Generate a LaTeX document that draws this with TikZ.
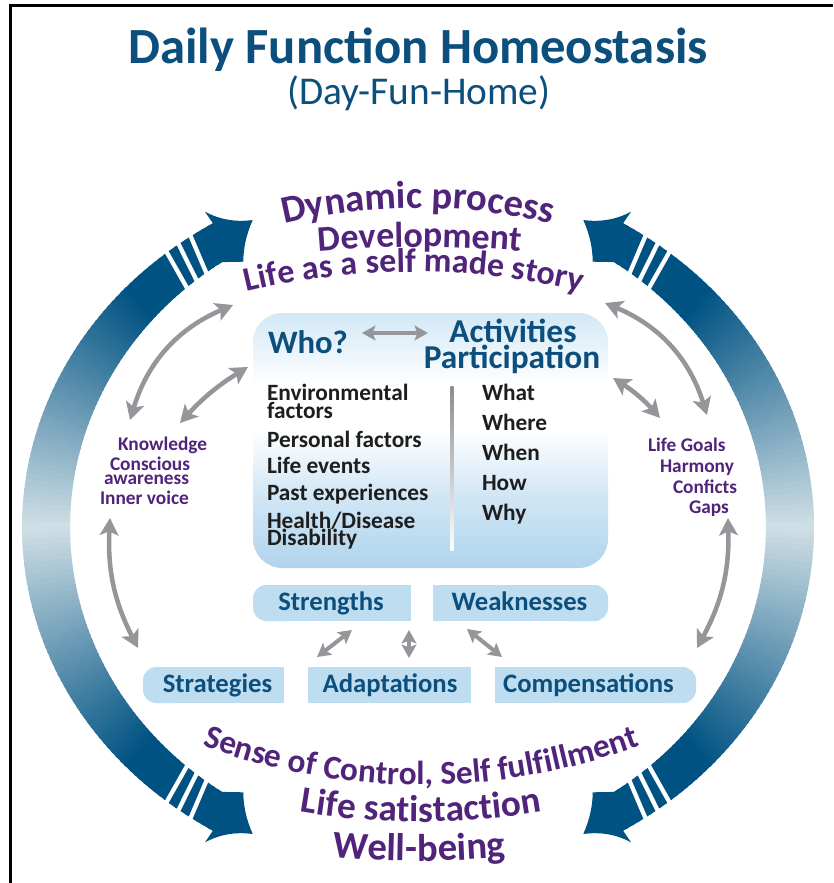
\documentclass[tikz,border=0pt]{standalone}
\usepackage{fontspec}
\setmainfont{Carlito}
\usetikzlibrary{arrows.meta,decorations.text,calc}

\definecolor{arcdark}{RGB}{0,82,130}
\definecolor{arclight}{RGB}{205,222,229}
\definecolor{dfblue}{RGB}{12,78,124}
\definecolor{dfpurple}{RGB}{80,36,122}
\definecolor{dfgray}{RGB}{148,150,153}
\definecolor{boxblue}{RGB}{190,221,240}
\definecolor{boxtop}{RGB}{210,232,246}
\definecolor{boxbot}{RGB}{176,212,237}
\definecolor{txtdark}{RGB}{30,30,30}

\pgfdeclareverticalshading{panelshade}{100bp}{%
  color(0bp)=(boxbot); color(25bp)=(boxbot); color(40bp)=(boxbot!55!white);
  color(52bp)=(white); color(61bp)=(white); color(75bp)=(boxtop); color(100bp)=(boxtop)}

\newcommand\dffs[1]{\fontsize{#1}{#1}\selectfont}
\newcommand\fDyn{\bfseries\fontsize{29pt}{30pt}\selectfont\color{dfpurple}}
\newcommand\fDev{\bfseries\fontsize{27pt}{28pt}\selectfont\color{dfpurple}}
\newcommand\fLife{\bfseries\fontsize{25.5pt}{26pt}\selectfont\color{dfpurple}}
\newcommand\fSense{\bfseries\fontsize{25pt}{26pt}\selectfont\color{dfpurple}}
\newcommand\fSat{\bfseries\fontsize{28pt}{29pt}\selectfont\color{dfpurple}}
\newcommand\fWell{\bfseries\fontsize{29pt}{30pt}\selectfont\color{dfpurple}}

\newcommand\arcquarter{%
 \foreach \i in {0,...,59}{%
  \pgfmathsetmacro\sa{\i/60}%
  \pgfmathsetmacro\sb{min(1,(\i+1.4)/60)}%
  \pgfmathsetmacro\pc{min(100,100*\sa/0.72)}%
  \fill[arcdark!\pc!arclight]
   ({396*cos(180-58.8*\sa)},{355*sin(180-58.8*\sa)}) --
   ({396*cos(180-58.8*\sb)},{355*sin(180-58.8*\sb)}) --
   ({348*cos(180-55.7*\sb)},{320.6*sin(180-55.7*\sb)}) --
   ({348*cos(180-55.7*\sa)},{320.6*sin(180-55.7*\sa)}) -- cycle;
 }%
 \fill[arcdark]
   ({396*cos(180-58.8*0.985)},{355*sin(180-58.8*0.985)}) --
   (-205.1,303.7) -- (-213,315.3)
   .. controls (-198.2,307.3) and (-182.2,304.7) .. (-165.3,307)
   .. controls (-171.3,293.5) and (-174.7,279.5) .. (-174.7,265.3)
   -- (-196.1,264.9) --
   ({348*cos(180-55.7*0.985)},{320.6*sin(180-55.7*0.985)}) -- cycle;
 \foreach \s in {0.864,0.901,0.938}{%
  \draw[white,line width=3.2pt]
   ({402*cos(180-58.8*\s)},{361*sin(180-58.8*\s)}) --
   ({342*cos(180-55.7*\s)},{314.6*sin(180-55.7*\s)});
 }%
}

\tikzset{
  txt/.style={inner sep=0pt, outer sep=0pt},
  colitem/.style={txt, anchor=base west, font=\bfseries\dffs{17.5}, text=txtdark},
  boxlbl/.style={txt, anchor=base, font=\bfseries\dffs{20}, text=dfblue},
  sidelbl/.style={txt, anchor=base west, font=\bfseries\dffs{14.5}, text=dfpurple},
  gbig/.style={draw=dfgray, line width=3.4pt,
     {Stealth[length=13pt,width=14pt,inset=3pt]}-{Stealth[length=13pt,width=14pt,inset=3pt]}},
  gsmall/.style={draw=dfgray, line width=3pt,
     {Stealth[length=10pt,width=11pt,inset=2pt]}-{Stealth[length=10pt,width=11pt,inset=2pt]}},
}

\begin{document}
\begin{tikzpicture}[x=0.75pt,y=0.75pt]
\useasboundingbox (0,0) rectangle (833,-883);
\fill[white] (0,0) rectangle (833,-883);
\draw[line width=1.6pt] (10.5,-883) -- (10.5,-5.5) -- (833,-5.5);

% title
\node[txt, anchor=base, font=\bfseries\dffs{38}, text=dfblue] (title) at (418,-63) {Daily Function Homeostasis};
\node[txt, anchor=base, font=\dffs{29.5}, text=dfblue] (subtitle) at (419,-104) {(Day-Fun-Home)};

% big arcs
\begin{scope}[shift={(418,-527)}]
 \arcquarter
 \begin{scope}[yscale=-1]\arcquarter\end{scope}
 \begin{scope}[xscale=-1]\arcquarter\end{scope}
 \begin{scope}[scale=-1]\arcquarter\end{scope}
\end{scope}

% curved texts
\path[decorate,decoration={text along path,text={|\fDyn|Dynamic process},text align=center}]
  (418,-786) ++(120:578) arc[start angle=120,end angle=60,radius=578];
\path[decorate,decoration={text along path,text={|\fDev|Development},text align=center}]
  (420,-1447) ++(97:1200) arc[start angle=97,end angle=83,radius=1200];
\path[decorate,decoration={text along path,text={|\fLife|Life as a self made story},text align=center}]
  (414,-988) ++(108:716) arc[start angle=108,end angle=72,radius=716];
\path[decorate,decoration={text along path,text={|\fSense|Sense of Control, Self fulfillment},text align=center}]
  (421,-162) ++(236:623) arc[start angle=236,end angle=304,radius=623];
\path[decorate,decoration={text along path,text={|\fSat|Life satistaction},text align=center}]
  (421,-97) ++(255:725) arc[start angle=255,end angle=285,radius=725];
\path[decorate,decoration={text along path,text={|\fWell|Well-being},text align=center}]
  (419,139) ++(262:1000) arc[start angle=262,end angle=278,radius=1000];

% central panel
\shade[shading=panelshade, rounded corners=22pt] (253,-313) rectangle (608,-568);
\shade[top color=gray!90, bottom color=white] (450.5,-386) rectangle (453.5,-550);

\node[txt, anchor=base west, font=\bfseries\dffs{24.5}, text=dfblue] (who) at (268,-353) {Who?};
\node[txt, anchor=base, font=\bfseries\dffs{25}, text=dfblue] (act) at (513,-342) {Activities};
\node[txt, anchor=base, font=\bfseries\dffs{25}, text=dfblue] (part) at (512,-368) {Participation};

\node[colitem] (env)  at (267,-400) {Environmental};
\node[colitem] (envf) at (267,-418) {factors};
\node[colitem] (pers) at (267,-447) {Personal factors};
\node[colitem] (life) at (267,-473) {Life events};
\node[colitem] (past) at (267,-500) {Past experiences};
\node[colitem] (hea)  at (267,-528) {Health/Disease};
\node[colitem] (dis)  at (267,-545) {Disability};

\node[colitem] (what)  at (482,-400) {What};
\node[colitem] (where) at (482,-430) {Where};
\node[colitem] (when)  at (482,-460) {When};
\node[colitem] (how)   at (482,-490) {How};
\node[colitem] (why)   at (482,-520) {Why};

% lower boxes
\fill[boxblue, rounded corners=10pt] (253,-585) rectangle (300,-621);
\fill[boxblue] (280,-585) rectangle (411,-621);
\fill[boxblue, rounded corners=10pt] (560,-585) rectangle (608,-621);
\fill[boxblue] (433,-585) rectangle (580,-621);
\fill[boxblue, rounded corners=10pt] (143,-667) rectangle (190,-703);
\fill[boxblue] (170,-667) rectangle (284,-703);
\fill[boxblue] (308,-667) rectangle (471,-703);
\fill[boxblue, rounded corners=10pt] (650,-667) rectangle (696,-703);
\fill[boxblue] (495,-667) rectangle (670,-703);

\node[boxlbl] (str)  at (331,-610) {Strengths};
\node[boxlbl] (weak) at (519.5,-610) {Weaknesses};
\node[boxlbl] (strat) at (217.5,-692) {Strategies};
\node[boxlbl] (adap) at (390,-692) {Adaptations};
\node[boxlbl] (comp) at (588.5,-692) {Compensations};

% side labels
\node[sidelbl] (kn)  at (118,-450) {Knowledge};
\node[sidelbl] (con) at (110,-470) {Conscious};
\node[sidelbl] (awa) at (104,-484) {awareness};
\node[sidelbl] (inv) at (100,-504) {Inner voice};
\node[sidelbl] (lg)  at (648,-451) {Life Goals};
\node[sidelbl] (har) at (660,-472) {Harmony};
\node[sidelbl] (cnf) at (673,-493) {Conficts};
\node[sidelbl] (gap) at (689,-513) {Gaps};

% arrow end points
\coordinate (wa1) at (362,-333); \coordinate (wa2) at (428,-333);
\coordinate (lo1) at (233,-305); \coordinate (lo2) at (130,-420);
\coordinate (li1) at (248,-367); \coordinate (li2) at (180,-423);
\coordinate (ro1) at (605,-303); \coordinate (ro2) at (707,-415);
\coordinate (ri1) at (613,-378); \coordinate (ri2) at (660,-418);
\coordinate (ll1) at (110,-518); \coordinate (ll2) at (138,-648);
\coordinate (rl1) at (728,-518); \coordinate (rl2) at (697,-648);
\coordinate (s1) at (352,-630); \coordinate (s2) at (317,-657);
\coordinate (v1) at (409,-630); \coordinate (v2) at (409,-658);
\coordinate (w1) at (467,-629); \coordinate (w2) at (502,-657);

\draw[gsmall] (wa1) -- (wa2);
\draw[gbig] (lo1) to[bend right=25] (lo2);
\draw[gbig] (li1) to[bend right=8] (li2);
\draw[gbig] (ro1) to[bend left=25] (ro2);
\draw[gbig] (ri1) to[bend left=8] (ri2);
\draw[gbig] (ll1) to[bend right=15] (ll2);
\draw[gbig] (rl1) to[bend left=15] (rl2);
\draw[gsmall] (s1) -- (s2);
\draw[gsmall] (v1) -- (v2);
\draw[gsmall] (w1) -- (w2);
\end{tikzpicture}
\end{document}
